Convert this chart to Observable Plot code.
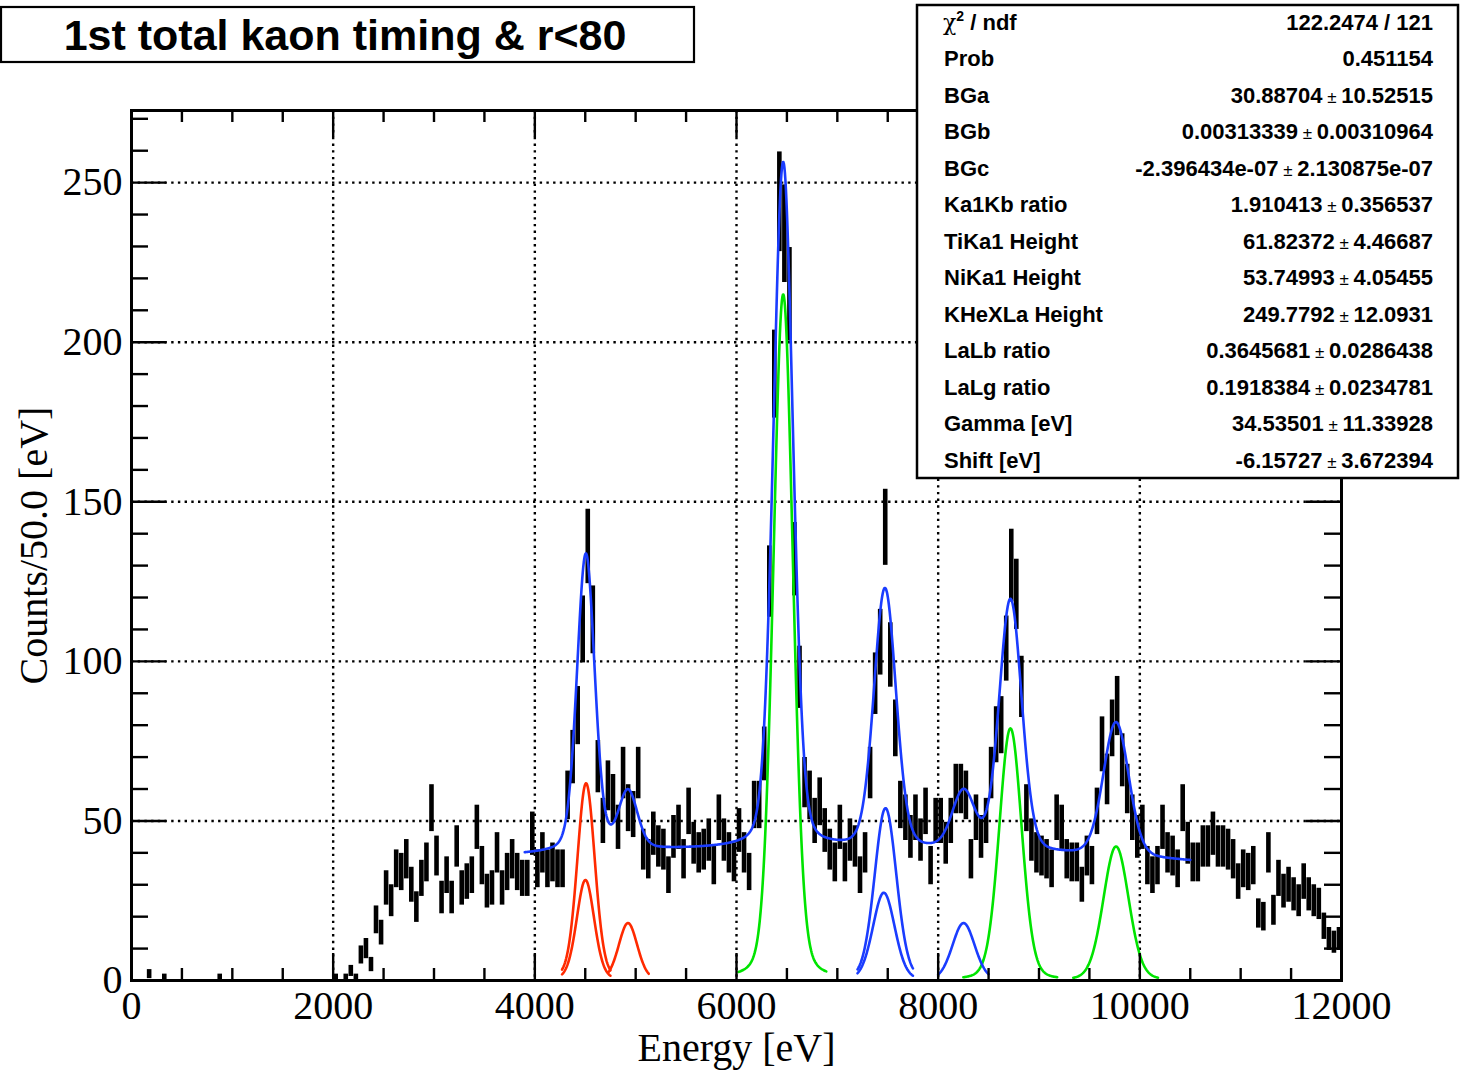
<!DOCTYPE html>
<html>
<head>
<meta charset="utf-8">
<script src="https://cdn.jsdelivr.net/npm/d3@7"></script>
<script src="https://cdn.jsdelivr.net/npm/@observablehq/plot@0.6"></script>
<style>
  body { margin: 0; background: #fff; }
  #chart { position: relative; width: 1460px; height: 1070px; }
</style>
</head>
<body>
<div id="chart"></div>
<script>
// ---------------- data ----------------
const binWidth = 50; // eV per bin, 0..12000
const counts = [
  0,0,0,2,0,0,1,0,0,0,
  0,0,0,0,0,0,0,1,0,0,
  0,0,0,0,0,0,0,0,0,0,
  0,0,0,0,0,0,0,0,0,0,
  1,0,1,3,1,8,10,5,19,15,
  29,25,35,34,38,30,23,32,37,54,
  39,26,33,26,42,29,31,33,48,36,
  28,29,40,29,34,38,34,32,32,46,
  35,40,35,37,35,35,58,70,83,110,
  136,113,67,50,61,57,48,65,54,52,
  65,41,38,46,42,41,33,45,48,38,
  53,43,40,41,44,36,51,44,40,37,
  47,40,34,55,55,71,125,190,244,234,
  215,132,95,62,58,50,56,47,41,37,
  48,37,44,42,33,40,65,93,106,142,
  102,79,55,51,45,51,44,53,36,50,
  50,43,50,60,60,58,38,51,45,50,
  65,77,80,104,130,121,92,54,44,40,
  39,38,35,51,48,38,37,37,30,39,
  36,53,74,63,79,86,69,60,51,45,
  48,36,33,36,48,40,39,35,54,43,
  37,37,42,42,46,42,42,41,38,31,
  35,34,36,21,20,40,22,32,28,30,
  27,25,31,27,25,24,17,13,12,13
];

const xTicks = [0, 2000, 4000, 6000, 8000, 10000, 12000];
const yTicks = [0, 50, 100, 150, 200, 250];
const xGridValues = [2000, 4000, 6000, 8000, 10000];
const yGridValues = [50, 100, 150, 200, 250];

// fit parameters (from the stats box)
const bgA = 30.88704, bgB = 0.00313339, bgC = -2.396434e-07;
const gammaEV = 34.53501;
const fitRange = [3900, 10500];

// fit components
const peakNames   = ["TiKa1", "TiKa2", "TiKb", "KHeLa", "NiKa1", "NiKa2", "NiKb", "KHeLb", "KHeLg"];
const peakGroups  = ["Ti", "Ti", "Ti", "KHe", "Ni", "Ni", "Ni", "KHe", "KHe"];
const peakCenters = [4508, 4502, 4924, 6463, 7478, 7461, 8252, 8717, 9764];
const peakHeights = [61.8, 31.5, 18, 215, 54, 27.5, 18, 79, 42];
const peakFwhm    = [208, 208, 221, 231, 258, 258, 264, 264, 298];
const peakFrom    = [4270, 4270, 4730, 6020, 7200, 7200, 8000, 8250, 9340];
const peakTo      = [4750, 4750, 5130, 6890, 7750, 7750, 8500, 9180, 10180];

const titleText = "1st total kaon timing & r<80";
const xTitle = "Energy [eV]";
const yTitle = "Counts/50.0 [eV]";

const statNames  = ["Prob", "BGa", "BGb", "BGc", "Ka1Kb ratio", "TiKa1 Height", "NiKa1 Height",
                    "KHeXLa Height", "LaLb ratio", "LaLg ratio", "Gamma [eV]", "Shift [eV]"];
const statValues = ["0.451154", "30.88704", "0.00313339", "-2.396434e-07", "1.910413", "61.82372",
                    "53.74993", "249.7792", "0.3645681", "0.1918384", "34.53501", "-6.15727"];
const statErrors = [null, "10.52515", "0.00310964", "2.130875e-07", "0.356537", "4.46687",
                    "4.05455", "12.0931", "0.0286438", "0.0234781", "11.33928", "3.672394"];
const chi2Text = "122.2474 / 121";

// ---------------- derived tables ----------------
const groupColor = {Ti: "#ff2a00", KHe: "#00e400", Ni: "#1a3cff"};
const fitColor = "#1a3cff";

const hist = counts.map((n, i) => ({
  x: (i + 0.5) * binWidth, n,
  lo: Math.max(0, n - Math.sqrt(n)), hi: n + Math.sqrt(n)
})).filter(d => d.n > 0);

function pseudoVoigt(E, c, h, f) {
  const r = gammaEV / f;
  const eta = 1.36603 * r - 0.47719 * r * r + 0.11116 * r * r * r;
  const t = (E - c) / (f / 2);
  return h * (eta / (1 + t * t) + (1 - eta) * Math.exp(-Math.LN2 * t * t));
}

const compPoints = [];
peakNames.forEach((name, k) => {
  for (let E = peakFrom[k]; E <= peakTo[k]; E += 5) {
    compPoints.push({id: name, group: peakGroups[k], E,
      v: pseudoVoigt(E, peakCenters[k], peakHeights[k], peakFwhm[k])});
  }
});

const totalPoints = [];
for (let E = fitRange[0]; E <= fitRange[1]; E += 5) {
  let v = bgA + bgB * E + bgC * E * E;
  peakNames.forEach((_, k) => { v += pseudoVoigt(E, peakCenters[k], peakHeights[k], peakFwhm[k]); });
  totalPoints.push({E, v});
}

const xMinor = d3.range(0, 12001, 500).filter(v => v % 2000 !== 0);
const yMinor = d3.range(0, 271, 10).filter(v => v % 50 !== 0);

// ---------------- plot ----------------
const W = 1460, H = 1070;
const mL = 131, mR = 119, mT = 110, mB = 90;
const frameW = W - mL - mR, frameH = H - mT - mB;
const yTop = 272.6;

const dotted = {stroke: "black", strokeWidth: 2.4, strokeDasharray: "2.4,4.3"};

const marks = [
  Plot.ruleX(xGridValues, dotted),
  Plot.ruleY(yGridValues, dotted),
  Plot.ruleX(hist, {x: "x", y1: "lo", y2: "hi", stroke: "black", strokeWidth: 4.6}),
];
["Ti", "KHe", "Ni"].forEach(g => {
  marks.push(Plot.line(compPoints.filter(d => d.group === g),
    {x: "E", y: "v", z: "id", stroke: groupColor[g], strokeWidth: 2.6}));
});
marks.push(Plot.line(totalPoints, {x: "E", y: "v", stroke: fitColor, strokeWidth: 2.6}));

// ticks on all four sides (inward)
marks.push(
  Plot.ruleX(xTicks, {stroke: "black", strokeWidth: 2.4, insetTop: frameH - 27}),
  Plot.ruleX(xMinor, {stroke: "black", strokeWidth: 2.4, insetTop: frameH - 12}),
  Plot.ruleX(xTicks, {stroke: "black", strokeWidth: 2.4, insetBottom: frameH - 27}),
  Plot.ruleX(xMinor, {stroke: "black", strokeWidth: 2.4, insetBottom: frameH - 12}),
  Plot.ruleY(yTicks, {stroke: "black", strokeWidth: 2.4, insetRight: frameW - 35}),
  Plot.ruleY(yMinor, {stroke: "black", strokeWidth: 2.4, insetRight: frameW - 17}),
  Plot.ruleY(yTicks, {stroke: "black", strokeWidth: 2.4, insetLeft: frameW - 35}),
  Plot.ruleY(yMinor, {stroke: "black", strokeWidth: 2.4, insetLeft: frameW - 17}),
  Plot.frame({stroke: "black", strokeWidth: 3}),
  Plot.axisX(xTicks, {tickSize: 0, tickPadding: 10, tickFormat: d => String(d), label: null,
    fontSize: 40, fontFamily: "Liberation Serif", fill: "black"}),
  Plot.axisY(yTicks, {tickSize: 0, tickPadding: 9, tickFormat: d => String(d), label: null,
    fontSize: 40, fontFamily: "Liberation Serif", fill: "black"}),
  Plot.text([xTitle], {frameAnchor: "bottom", dy: 68, fontSize: 40, textAnchor: "middle",
    fontFamily: "Liberation Serif", fill: "black", lineAnchor: "middle"}),
  Plot.text([yTitle], {frameAnchor: "left", dx: -97, rotate: -90, fontSize: 40, textAnchor: "middle",
    fontFamily: "Liberation Serif", fill: "black", lineAnchor: "middle"})
);

const svgEl = Plot.plot({
  width: W, height: H,
  marginLeft: mL, marginRight: mR, marginTop: mT, marginBottom: mB,
  x: {domain: [0, 12000]},
  y: {domain: [0, yTop]},
  style: {background: "white", fontFamily: "Liberation Serif", fontSize: "40px", color: "black", overflow: "visible"},
  marks
});
document.getElementById("chart").appendChild(svgEl);

// ---------------- title box and stats box ----------------
const svg = d3.select(svgEl);
const sans = "'Liberation Sans', Arial, Helvetica, sans-serif";

const tg = svg.append("g");
tg.append("rect").attr("x", 1).attr("y", 7).attr("width", 693).attr("height", 55)
  .attr("fill", "white").attr("stroke", "black").attr("stroke-width", 2.2);
tg.append("text").attr("x", 345).attr("y", 50).attr("text-anchor", "middle")
  .attr("font-family", sans).attr("font-weight", "bold").attr("font-size", 43)
  .attr("fill", "black").text(titleText);

const sg = svg.append("g");
sg.append("rect").attr("x", 917).attr("y", 5).attr("width", 541).attr("height", 473)
  .attr("fill", "white").attr("stroke", "black").attr("stroke-width", 2.5);

const rowY = i => 22 + 36.5 * i + 7.8;
const fs = 22;
// chi2 row
const c0 = sg.append("text").attr("x", 943).attr("y", rowY(0)).attr("text-anchor", "start")
  .attr("font-family", sans).attr("font-weight", "bold").attr("font-size", fs).attr("fill", "black");
c0.append("tspan").attr("font-weight", "normal").attr("font-family", "'DejaVu Serif', serif").text("χ");
c0.append("tspan").attr("font-size", 14).attr("dy", -9).text("2");
c0.append("tspan").attr("dy", 9).text(" / ndf");
sg.append("text").attr("x", 1433).attr("y", rowY(0)).attr("text-anchor", "end")
  .attr("font-family", sans).attr("font-weight", "bold").attr("font-size", fs).attr("fill", "black")
  .text(chi2Text);

statNames.forEach((name, k) => {
  const y = rowY(k + 1);
  sg.append("text").attr("x", 944).attr("y", y).attr("text-anchor", "start")
    .attr("font-family", sans).attr("font-weight", "bold").attr("font-size", fs).attr("fill", "black")
    .text(name);
  const t = sg.append("text").attr("x", 1433).attr("y", y).attr("text-anchor", "end")
    .attr("font-family", sans).attr("font-weight", "bold").attr("font-size", fs).attr("fill", "black");
  t.append("tspan").text(statValues[k]);
  if (statErrors[k] !== null) {
    t.append("tspan").attr("font-weight", "normal").attr("font-size", 17).text(" ± ");
    t.append("tspan").text(statErrors[k]);
  }
});
</script>
</body>
</html>
